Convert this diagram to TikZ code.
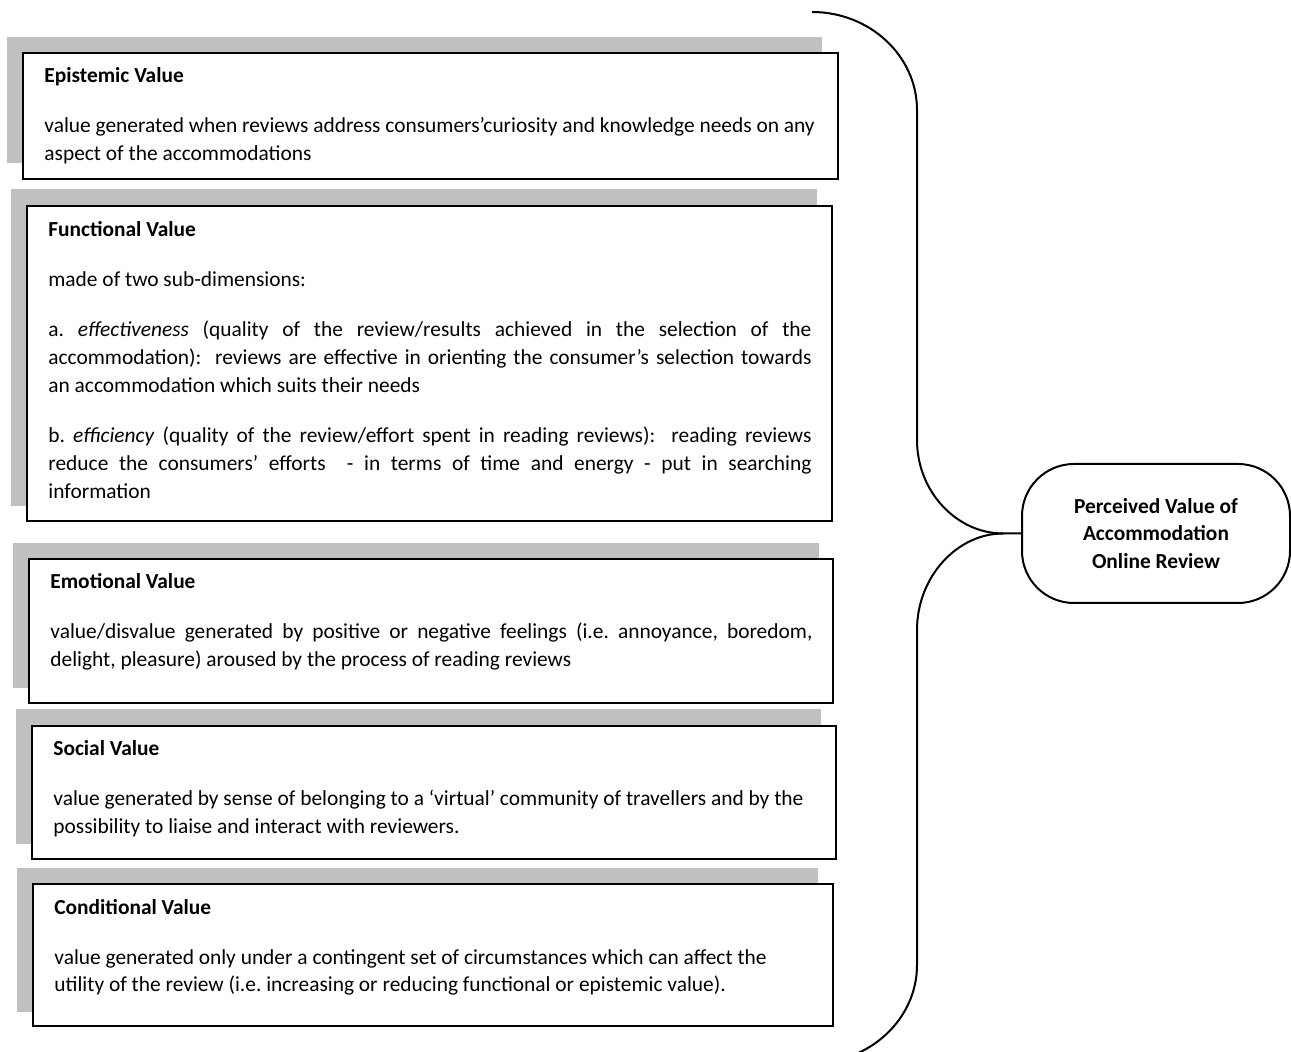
\documentclass[tikz,border=0pt]{standalone}
\usepackage{fontspec}
\setmainfont{Carlito}
\usetikzlibrary{fit}
\definecolor{shadegray}{RGB}{192,192,192}
\frenchspacing
\begin{document}
\begin{tikzpicture}[x=0.5pt,y=-0.5pt,
  shadowbox/.style={fill=shadegray,draw=none},
  valbox/.style={draw=black,line width=1pt,fill=white,inner sep=0pt},
  txt/.style={anchor=base west,inner sep=0pt,align=justify,font=\fontsize{10.7}{14}\selectfont},
  pvbox/.style={draw=black,line width=1pt,rounded corners=26pt,minimum width=134pt,minimum height=69.5pt,
    align=center,font=\fontsize{10.7}{13.75}\selectfont\bfseries,inner sep=0pt},
  brace/.style={draw=black,line width=1pt}]
\clip (0,0) rectangle (1291,1052);
\fill[white] (0,0) rectangle (1291,1052);
% Epistemic
\path[shadowbox] (7,37) rectangle (822,163);
\node[valbox,fit={(23,53) (838,179)}] (epi) {};
\node[txt,text width=395pt] (epiT) at (44,83) {\setlength\parskip{11pt}\hyphenpenalty=10000\tolerance=9999
\textbf{Epistemic Value}\par
value generated when reviews address consumers’curiosity and knowledge needs on any\newline aspect of the accommodations};
% Functional
\path[shadowbox] (11,189) rectangle (817,506);
\node[valbox,fit={(27,206) (832,521)}] (fun) {};
\node[txt,text width=381.5pt] (funT) at (48,237) {\setlength\parskip{11pt}\hyphenpenalty=10000\tolerance=9999
\textbf{Functional Value}\par
made of two sub-dimensions:\par
a. \textit{effectiveness} (quality of the review/results achieved in the selection of the\linebreak
accommodation):\ \ reviews are effective in orienting the consumer’s selection towards\linebreak
an accommodation which suits their needs\par
b. \textit{efficiency} (quality of the review/effort spent in reading reviews):\ \ reading reviews\linebreak
reduce the consumers’ efforts\ \ - in terms of time and energy - put in searching\linebreak
information};
% Emotional
\path[shadowbox] (13,543) rectangle (819,688);
\node[valbox,fit={(29,559) (833,703)}] (emo) {};
\node[txt,text width=381pt] (emoT) at (50,589) {\setlength\parskip{11pt}\hyphenpenalty=10000\tolerance=9999
\textbf{Emotional Value}\par
value/disvalue generated by positive or negative feelings (i.e. annoyance, boredom,\linebreak
delight, pleasure) aroused by the process of reading reviews};
% Social
\path[shadowbox] (16,709) rectangle (821,844);
\node[valbox,fit={(32,726) (836,859)}] (soc) {};
\node[txt,text width=390pt] (socT) at (53,756) {\setlength\parskip{11pt}\hyphenpenalty=10000\tolerance=9999
\textbf{Social Value}\par
value generated by sense of belonging to a ‘virtual’ community of travellers and by the\newline
possibility to liaise and interact with reviewers.};
% Conditional
\path[shadowbox] (17,868) rectangle (818,1012);
\node[valbox,fit={(33,884) (833,1026)}] (con) {};
\node[txt,text width=385pt] (conT) at (54,914) {\setlength\parskip{11pt}\hyphenpenalty=10000\tolerance=9999
\textbf{Conditional Value}\par
value generated only under a contingent set of circumstances which can affect the\newline
utility of the review (i.e. increasing or reducing functional or epistemic value).};
% Perceived value node
\node[pvbox] (pv) at (1156,533.5) {Perceived Value of\\Accommodation\\Online Review};
\coordinate (join) at (1003,533.5);
\coordinate (topend) at (812,12);
\coordinate (botend) at (812,1063);
\draw[brace] (pv.west) -- (join) .. controls (957,533.5) and (917,492) .. (917,440) -- (917,110) .. controls (917,56) and (870,12) .. (topend);
\draw[brace] (join) .. controls (957,533.5) and (917,577) .. (917,630) -- (917,965) .. controls (917,1019) and (870,1063) .. (botend);
\end{tikzpicture}
\end{document}
